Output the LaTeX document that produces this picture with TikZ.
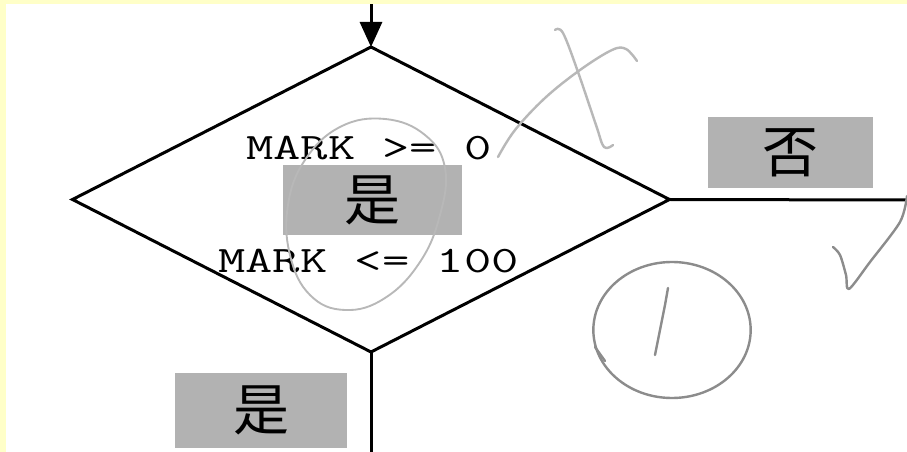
\documentclass[tikz,border=0pt]{standalone}
\usepackage{fontspec}
\usetikzlibrary{shapes.geometric,arrows.meta}
\newfontfamily\cjkfnt{Noto Sans CJK SC}
\definecolor{scanyellow}{HTML}{FFFFC8}
\newcommand{\condtxt}[1]{\scalebox{1.42}[1]{#1}}
\tikzset{
  flowline/.style={line width=2.25pt, black},
  decision/.style={diamond, draw, line width=2.25pt, inner sep=0pt, outer sep=0pt,
    minimum width=447.75pt, minimum height=228.75pt},
  condtext/.style={font=\ttfamily\fontsize{28pt}{30pt}\selectfont, inner sep=0pt, anchor=base},
  graybox/.style={fill=black!30, inner sep=0pt, font=\cjkfnt\fontsize{42pt}{44pt}\selectfont},
  pencil/.style={draw=black!45, line width=1.8pt, line cap=round, line join=round},
  lightpencil/.style={draw=black!28, line width=1.4pt, line cap=round, line join=round},
}
\begin{document}
\begin{tikzpicture}[x=0.75pt, y=-0.75pt]
\useasboundingbox (0,0) rectangle (907,452);
\fill[white] (0,0) rectangle (907,452);

% decision diamond
\node[decision] (d) at (371,199.5) {};

% condition text
\node[condtext] (c1) at (369,160) {\condtxt{MARK >= 0}};
\node[graybox, minimum width=134.25pt, minimum height=52.5pt] (yes1) at (372.5,200) {是};
\node[condtext] (c2) at (368.5,273) {\condtxt{MARK <= 100}};

% labels
\node[graybox, minimum width=123.75pt, minimum height=53.25pt] (no) at (790.5,152.5) {否};
\node[graybox, minimum width=129pt, minimum height=56.25pt] (yes2) at (261,410.5) {是};

% connectors
\coordinate (in) at (371,3);
\coordinate (outR) at (907,200);
\coordinate (outB) at (371,452);
\draw[flowline, -{Triangle[length=18.75pt, width=16.5pt]}] (in) -- (d.north);
\draw[flowline] (d.east) -- (outR);
\draw[flowline] (d.south) -- (outB);

% handwritten marks
\draw[lightpencil] plot[smooth cycle, tension=0.7] coordinates {(385,119) (425,135) (445,168) (440,215) (420,262) (385,298) (345,310) (310,295) (290,255) (288,205) (305,160) (340,127)};
\draw[lightpencil, line width=1.8pt] plot[smooth, tension=0.6] coordinates {(555,30) (563,33) (578,72) (596,125) (604,147) (613,145)};
\draw[lightpencil, line width=1.8pt] plot[smooth, tension=0.6] coordinates {(498,157) (515,130) (545,98) (580,70) (612,50) (626,49) (637,61)};
\draw[pencil] (672,330) ellipse [x radius=59pt, y radius=51pt];
\draw[pencil] (595,347) -- (605,361);
\draw[pencil] (668,288) -- (665,305) -- (655,355);
\draw[pencil] plot[smooth, tension=0.5] coordinates {(833,247) (840,255) (846,275) (849,289) (870,262) (900,222) (907,196)};

% scan border
\fill[scanyellow] (0,0) rectangle (907,4);
\fill[scanyellow] (0,0) rectangle (6,452);
\end{tikzpicture}
\end{document}
